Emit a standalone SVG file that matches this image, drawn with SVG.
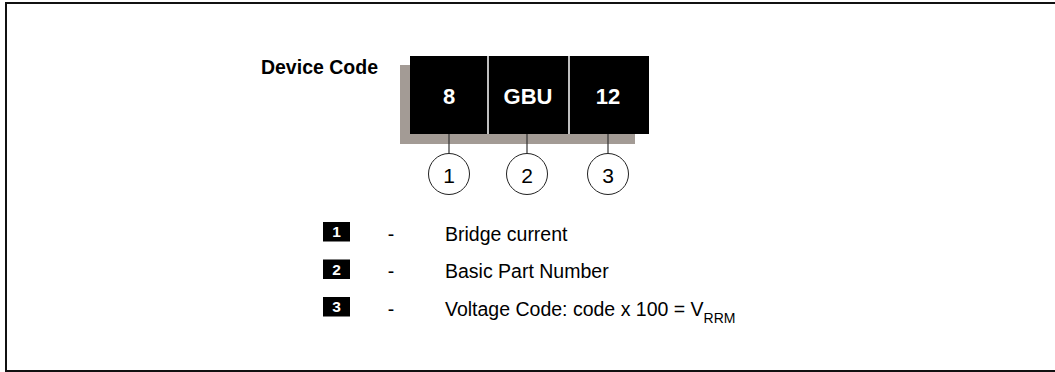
<svg xmlns="http://www.w3.org/2000/svg" width="1055" height="372" viewBox="0 0 1055 372">
<style>
.t{font-family:"Liberation Sans",Arial,sans-serif;fill:#000}
.b{font-weight:bold}
.w{fill:#fff;font-weight:bold;font-family:"Liberation Sans",Arial,sans-serif}
.cell{fill:#000}
.circ{fill:#fff;stroke:#222;stroke-width:1}
.con{stroke:#333;stroke-width:1.2;fill:none}
.sq{fill:#000}
</style>
<rect x="6" y="3" width="1052" height="368" fill="#fff" stroke="#111" stroke-width="2"/>
<text class="t b" x="378" y="74" font-size="19.5" text-anchor="end">Device Code</text>
<rect x="400" y="65" width="235" height="79" fill="#a39b95"/>
<g id="cell1"><rect class="cell" x="410" y="56" width="78" height="78"/><text class="w" x="449" y="104" font-size="22" text-anchor="middle">8</text></g>
<g id="cell2"><rect class="cell" x="488" y="56" width="81" height="78"/><text class="w" x="528" y="104" font-size="22" text-anchor="middle">GBU</text></g>
<g id="cell3"><rect class="cell" x="569" y="56" width="80" height="78"/><text class="w" x="608" y="104" font-size="22" text-anchor="middle">12</text></g>
<line x1="488" y1="56" x2="488" y2="134" stroke="#fff" stroke-width="1.5"/>
<line x1="569" y1="56" x2="569" y2="134" stroke="#fff" stroke-width="1.5"/>
<g id="connectors">
<line class="con" x1="449" y1="134" x2="449" y2="153.5"/>
<line class="con" x1="527" y1="134" x2="527" y2="153.5"/>
<line class="con" x1="608" y1="134" x2="608" y2="153.5"/>
</g>
<g id="c1"><circle class="circ" cx="449" cy="174" r="20.5"/><text class="t" x="449" y="182.5" font-size="21" text-anchor="middle">1</text></g>
<g id="c2"><circle class="circ" cx="527" cy="174" r="20.5"/><text class="t" x="527" y="182.5" font-size="21" text-anchor="middle">2</text></g>
<g id="c3"><circle class="circ" cx="608" cy="174" r="20.5"/><text class="t" x="608" y="182.5" font-size="21" text-anchor="middle">3</text></g>
<g id="legend1"><rect class="sq" x="323" y="222" width="27" height="19.5"/><text class="w" x="336.5" y="237" font-size="15.5" text-anchor="middle">1</text><text class="t" x="391" y="240.5" font-size="19.5" text-anchor="middle">-</text><text class="t" x="445" y="240.5" font-size="19.5">Bridge current</text></g>
<g id="legend2"><rect class="sq" x="323" y="259.5" width="27" height="19.5"/><text class="w" x="336.5" y="274.5" font-size="15.5" text-anchor="middle">2</text><text class="t" x="391" y="278" font-size="19.5" text-anchor="middle">-</text><text class="t" x="445" y="278" font-size="19.5">Basic Part Number</text></g>
<g id="legend3"><rect class="sq" x="323" y="297" width="27" height="19.5"/><text class="w" x="336.5" y="312" font-size="15.5" text-anchor="middle">3</text><text class="t" x="391" y="315.5" font-size="19.5" text-anchor="middle">-</text><text class="t" x="445" y="315.5" font-size="19.5">Voltage Code: code x 100 = V<tspan font-size="14" dy="7">RRM</tspan></text></g>
</svg>
